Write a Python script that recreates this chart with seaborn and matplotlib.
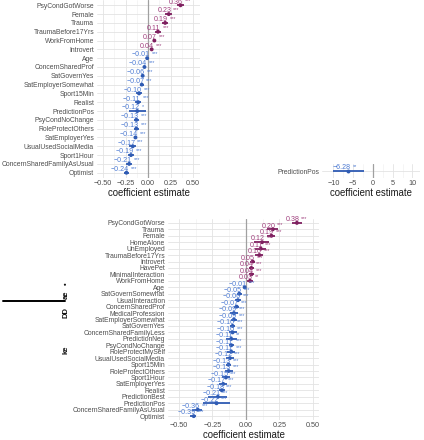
import numpy as np
import pandas as pd
import matplotlib
matplotlib.use("Agg")
import matplotlib.pyplot as plt
from matplotlib.lines import Line2D
import seaborn as sns

# ---- panel A (top left) ----
vars_a = ["PsyCondGotWorse", "Female", "Trauma", "TraumaBefore17Yrs", "WorkFromHome",
          "Introvert", "Age", "ConcernSharedProf", "SatGovernYes", "SatEmployerSomewhat",
          "Sport15Min", "Realist", "PredictionPos", "PsyCondNoChange", "RoleProtectOthers",
          "SatEmployerYes", "UsualUsedSocialMedia", "Sport1Hour",
          "ConcernSharedFamilyAsUsual", "Optimist"]
est_a = [0.36, 0.23, 0.19, 0.11, 0.07, 0.04, -0.01, -0.04, -0.06, -0.07,
         -0.10, -0.11, -0.12, -0.13, -0.13, -0.14, -0.17, -0.19, -0.21, -0.24]
lo_a = [0.32, 0.19, 0.16, 0.08, 0.05, 0.02, -0.015, -0.06, -0.08, -0.09,
        -0.13, -0.14, -0.21, -0.16, -0.16, -0.16, -0.21, -0.22, -0.24, -0.27]
hi_a = [0.40, 0.27, 0.22, 0.14, 0.09, 0.06, -0.005, -0.02, -0.04, -0.05,
        -0.07, -0.08, -0.02, -0.10, -0.10, -0.12, -0.13, -0.16, -0.18, -0.21]
stars_a = ["***"] * 12 + ["*"] + ["***"] * 7

# ---- panel B (top right) ----
vars_b = ["PredictionPos"]
est_b = [-6.28]
lo_b = [-10.2]
hi_b = [-2.3]
stars_b = ["**"]

# ---- panel C (bottom) ----
vars_c = ["PsyCondGotWorse", "Trauma", "Female", "HomeAlone", "UnEmployed",
          "TraumaBefore17Yrs", "Introvert", "HavePet", "MinimalInteraction", "WorkFromHome",
          "Age", "SatGovernSomewhat", "UsualInteraction", "ConcernSharedProf",
          "MedicalProfession", "SatEmployerSomewhat", "SatGovernYes",
          "ConcernSharedFamilyLess", "PredictionNeg", "PsyCondNoChange", "RoleProtectMySelf",
          "UsualUsedSocialMedia", "Sport15Min", "RoleProtectOthers", "Sport1Hour",
          "SatEmployerYes", "Realist", "PredictionBest", "PredictionPos",
          "ConcernSharedFamilyAsUsual", "Optimist"]
est_c = [0.38, 0.20, 0.19, 0.12, 0.11, 0.10, 0.05, 0.04, 0.04, 0.03,
         -0.01, -0.05, -0.06, -0.07, -0.09, -0.09, -0.10, -0.10, -0.11, -0.11,
         -0.11, -0.12, -0.13, -0.13, -0.15, -0.17, -0.18, -0.21, -0.22, -0.36, -0.39]
lo_c = [0.34, 0.16, 0.16, 0.06, 0.07, 0.07, 0.03, 0.02, 0.02, 0.01,
        -0.015, -0.07, -0.08, -0.09, -0.12, -0.11, -0.12, -0.13, -0.15, -0.13,
        -0.14, -0.15, -0.15, -0.16, -0.18, -0.20, -0.20, -0.28, -0.32, -0.40, -0.42]
hi_c = [0.42, 0.24, 0.22, 0.17, 0.15, 0.13, 0.07, 0.06, 0.06, 0.05,
        -0.005, -0.03, -0.04, -0.05, -0.06, -0.07, -0.08, -0.07, -0.07, -0.09,
        -0.08, -0.09, -0.11, -0.10, -0.12, -0.14, -0.16, -0.14, -0.12, -0.33, -0.37]
stars_c = ["***"] * 9 + ["**"] + ["***"] * 8 + ["**"] + ["***"] * 12

sns.set_theme(style="white")
plt.rcParams["font.family"] = ["Liberation Sans", "DejaVu Sans"]

POS_TXT, POS_LINE = "#a0407e", "#7e1f5f"
NEG_TXT, NEG_LINE = "#4d7bd3", "#2f5bb3"

W, H = 424, 440
fig = plt.figure(figsize=(W / 100, H / 100), dpi=100)


def px_axes(left, top, right, bottom):
    return fig.add_axes([left / W, 1 - bottom / H, (right - left) / W, (bottom - top) / H])


def coef_panel(ax, names, est, lo, hi, stars, xlim, xticks, xlabels, minor):
    df = pd.DataFrame({"variable": names, "estimate": est, "lo": lo, "hi": hi, "stars": stars})
    df["sign"] = np.where(df["estimate"] > 0, "pos", "neg")
    n = len(df)
    ypos = np.arange(n)
    ax.set_xlim(*xlim)
    ax.set_xticks(xticks)
    ax.set_xticklabels(xlabels)
    ax.set_xticks(minor, minor=True)
    ax.grid(True, which="major", color="#e3e3e3", lw=0.6)
    ax.grid(True, which="minor", axis="x", color="#eeeeee", lw=0.4)
    ax.axvline(0, color="#a0a0a0", lw=0.9, zorder=1)
    cols = [POS_LINE if s == "pos" else NEG_LINE for s in df["sign"]]
    ax.hlines(ypos, df["lo"], df["hi"], colors=cols, lw=1.3, zorder=2)
    sns.scatterplot(data=df, x="estimate", y="variable", hue="sign",
                    palette={"pos": POS_LINE, "neg": NEG_LINE}, s=8, linewidth=0,
                    legend=False, ax=ax, zorder=3)
    for i, row in df.iterrows():
        tc = POS_TXT if row["sign"] == "pos" else NEG_TXT
        lab = f"{row['estimate']:.2f}".replace("-", "\u2212")
        ax.annotate(lab, xy=(row["estimate"], i), xytext=(2.5, 3.2), textcoords="offset pixels",
                    ha="right", va="center", fontsize=5.1, color=tc, zorder=4)
        ax.annotate(row["stars"], xy=(row["estimate"], i), xytext=(4.5, 4.3),
                    textcoords="offset pixels", ha="left", va="center", fontsize=3.9,
                    color=tc, zorder=4)
    ax.set_ylim(n - 0.4, -0.6)
    ax.set_yticks(ypos)
    ax.set_yticklabels(names)
    ax.set_ylabel("")
    ax.set_xlabel("coefficient estimate", fontsize=6.9, color="#1a1a1a", labelpad=0.8)
    ax.tick_params(axis="y", which="major", length=1.5, width=0.5, color="#b0b0b0", pad=0.6,
                   labelsize=4.9, labelcolor="#4d4d4d")
    ax.tick_params(axis="x", which="both", length=0, pad=1.5, labelsize=5.2,
                   labelcolor="#4d4d4d")
    for s in ax.spines.values():
        s.set_visible(False)


t5 = ["\u22120.50", "\u22120.25", "0.00", "0.25", "0.50"]

ax1 = px_axes(97, 0, 200, 178)
coef_panel(ax1, vars_a, est_a, lo_a, hi_a, stars_a, (-0.567, 0.577),
           [-0.5, -0.25, 0, 0.25, 0.5], t5, [-0.375, -0.125, 0.125, 0.375])

ax2 = px_axes(322, 164, 420, 178)
coef_panel(ax2, vars_b, est_b, lo_b, hi_b, stars_b, (-12.9, 11.9),
           [-10, -5, 0, 5, 10], ["\u221210", "\u22125", "0", "5", "10"], [-7.5, -2.5, 2.5, 7.5])

ax3 = px_axes(168, 219, 319, 420)
coef_panel(ax3, vars_c, est_c, lo_c, hi_c, stars_c, (-0.582, 0.545),
           [-0.5, -0.25, 0, 0.25, 0.5], t5, [-0.375, -0.125, 0.125, 0.375])

# stray rendering fragments at the lower left of the reference
fig.add_artist(Line2D([3 / W, 65 / W], [1 - 301 / H, 1 - 301 / H], color="black", lw=1.4))
for ytxt, s in [(350, "ke"), (313, "DD"), (295, "ae"), (284, "\u2022")]:
    fig.text(66 / W, 1 - ytxt / H, s, rotation=90, ha="center", va="center",
             fontsize=5.5, fontweight="bold", color="#111111")

fig.savefig("out.png", dpi=100)
